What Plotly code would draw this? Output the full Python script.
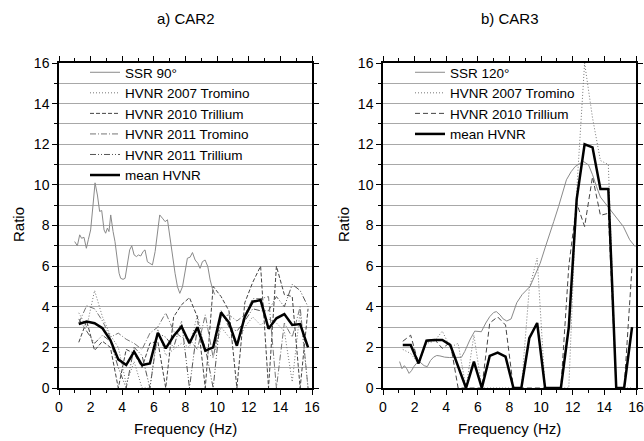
import plotly.graph_objects as go

# ---------------- data ----------------
freq_hv = [1.25, 1.75, 2.25, 2.75, 3.25, 3.75, 4.25, 4.75, 5.25, 5.75,
           6.25, 6.75, 7.25, 7.75, 8.25, 8.75, 9.25, 9.75, 10.25, 10.75,
           11.25, 11.75, 12.25, 12.75, 13.25, 13.75, 14.25, 14.75, 15.25, 15.75]

# Panel a) CAR2
ssr90_f = [0.99, 1.16, 1.31, 1.43, 1.58, 1.73, 1.86, 2.0, 2.15, 2.28, 2.43, 2.57, 2.70,
           2.85, 2.95, 3.06, 3.16, 3.27, 3.42, 3.54, 3.69, 3.8, 3.9, 4.05, 4.18, 4.32,
           4.47, 4.6, 4.75, 4.9, 5.02, 5.17, 5.32, 5.44, 5.59, 5.74, 5.91, 6.08, 6.22,
           6.37, 6.54, 6.71, 6.86, 7.0, 7.17, 7.34, 7.49, 7.64, 7.81, 7.97, 8.12, 8.29,
           8.44, 8.61, 8.78, 8.92, 9.07, 9.24, 9.41, 9.56, 9.7, 9.85]
ssr90_r = [7.21, 7.0, 7.54, 7.37, 7.42, 6.88, 7.32, 7.78, 9.0, 10.1, 9.5, 8.69, 8.74,
           7.78, 7.62, 7.87, 7.7, 8.52, 7.7, 7.21, 6.3, 5.65, 5.4, 5.35, 5.4, 6.14,
           6.8, 7.0, 6.55, 6.47, 6.55, 6.5, 6.72, 6.8, 6.22, 6.14, 6.06, 6.72, 7.54,
           8.52, 8.36, 8.19, 8.28, 7.45, 6.63, 5.65, 4.99, 4.66, 4.99, 5.73, 6.39, 6.44,
           6.67, 6.3, 6.14, 5.89, 6.22, 6.3, 5.98, 5.32, 4.9, 4.6]
car2_2007_tromino = [3.7, 3.0, 4.8, 3.5, 2.6, 2.0, 0.2, 1.3, 0.0, 0.0,
                     2.9, 1.6, 1.9, 2.2, 2.0, 3.6, 1.8, 1.5, 3.0, 2.5,
                     2.2, 3.0, 3.5, 3.1, 3.4, 3.2, 2.8, 0.3, 3.8, 0.0]
car2_2010_trillium = [2.25, 3.3, 1.85, 2.3, 2.0, 0.0, 1.9, 1.7, 1.0, 2.2,
                      2.3, 0.0, 3.5, 4.1, 4.45, 3.5, 0.0, 5.0, 4.5, 3.8,
                      0.0, 4.2, 5.2, 6.0, 0.0, 6.0, 4.6, 4.5, 0.0, 3.9]
car2_2011_tromino = [3.2, 4.05, 3.9, 3.3, 2.5, 2.7, 2.4, 2.2, 1.9, 2.7,
                     3.0, 3.7, 2.8, 2.5, 2.4, 1.9, 3.6, 1.5, 3.5, 3.6,
                     3.3, 3.6, 4.4, 4.4, 4.5, 0.0, 3.2, 2.5, 4.0, 0.0]
car2_2011_trillium = [3.4, 2.8, 2.2, 2.6, 2.3, 1.0, 0.0, 2.0, 1.6, 0.0,
                      2.7, 2.5, 2.0, 3.3, 0.0, 3.0, 2.0, 0.0, 3.8, 3.0,
                      2.8, 3.3, 3.9, 3.8, 3.8, 4.5, 4.0, 5.1, 4.8, 4.0]
car2_mean = [3.15, 3.27, 3.19, 2.94, 2.36, 1.41, 1.13, 1.79, 1.13, 1.21,
             2.72, 1.95, 2.56, 3.02, 2.2, 2.99, 1.84, 2.0, 3.71, 3.22,
             2.08, 3.51, 4.25, 4.33, 2.92, 3.43, 3.64, 3.1, 3.15, 2.0]

# Panel b) CAR3
ssr120_f = [1.05, 1.2, 1.35, 1.5, 1.65, 1.8, 1.95, 2.1, 2.3, 2.45, 2.6, 2.8, 3.0, 3.2,
            3.4, 3.6, 3.9, 4.2, 4.6, 4.96, 5.17, 5.49, 5.8, 6.0, 6.22, 6.5, 6.75, 7.0,
            7.17, 7.4, 7.6, 7.83, 8.1, 8.46, 8.8, 9.3, 9.6, 9.94, 10.25, 10.57, 10.8,
            11.1, 11.35, 11.6, 11.9, 12.15, 12.45, 12.68, 13.0, 13.25, 13.5, 13.75,
            14.05, 14.3, 14.58, 14.9, 15.2, 15.6, 15.95]
ssr120_r = [1.3, 0.95, 1.1, 0.95, 0.72, 0.85, 1.05, 1.2, 1.3, 1.2, 1.1, 1.05, 1.35, 1.52,
            1.6, 1.58, 1.52, 1.5, 1.5, 1.51, 1.8, 2.36, 2.8, 2.78, 2.77, 3.2, 3.51, 3.72,
            3.76, 3.6, 3.4, 3.3, 3.4, 4.2, 4.6, 5.0, 5.5, 6.14, 6.9, 7.62, 8.2,
            8.93, 9.6, 10.25, 10.65, 10.9, 11.05, 11.15, 10.98, 10.5, 9.92, 9.4,
            9.1, 8.85, 8.6, 8.25, 7.95, 7.3, 6.96]
car3_2007_tromino = [1.9, 1.7, 1.2, 2.2, 2.3, 2.8, 2.0, 2.2, 0.0, 2.6,
                     0.0, 0.0, 0.0, 0.0, 0.0, 0.0, 4.9, 6.4, 0.0, 0.0,
                     0.0, 0.0, 9.7, 16.0, 13.3, 11.2, 11.0, 0.0, 0.0, 0.0]
car3_2010_trillium = [2.3, 2.6, 1.2, 2.35, 2.4, 1.95, 2.25, 0.0, 0.0, 0.0,
                      0.0, 3.2, 3.5, 3.1, 0.0, 0.0, 0.0, 0.0, 0.0, 0.0,
                      0.0, 6.0, 9.1, 7.95, 10.4, 8.5, 8.6, 0.0, 0.0, 6.0]
car3_mean = [2.12, 2.12, 1.21, 2.33, 2.36, 2.36, 2.12, 1.05, 0.0, 1.3,
             0.0, 1.58, 1.74, 1.54, 0.0, 0.0, 2.45, 3.2, 0.0, 0.0,
             0.0, 3.0, 9.3, 12.0, 11.85, 9.8, 9.8, 0.0, 0.0, 3.0]

x_ticks = [0, 2, 4, 6, 8, 10, 12, 14, 16]
y_ticks = [0, 2, 4, 6, 8, 10, 12, 14, 16]

# ---------------- figure ----------------
W, H = 644, 441
FONT = "Liberation Sans, Arial, Helvetica, sans-serif"

fig = go.Figure()

def add(x, y, name, color, width, dash, xa, ya, leg):
    fig.add_trace(go.Scatter(x=x, y=y, name=name, mode="lines",
                             line=dict(color=color, width=width, dash=dash),
                             xaxis=xa, yaxis=ya, legend=leg, hoverinfo="skip"))

DOT = "1px,2px"
DASH = "4px,2px"
DDOT = "6px,2px,1px,2px,1px,2px"
DDASH = "6px,2px,1px,2px"
add(ssr90_f, ssr90_r, "SSR 90°", "#8a8a8a", 1, "solid", "x", "y", "legend")
add(freq_hv, car2_2007_tromino, "HVNR 2007 Tromino", "#777777", 1, DOT, "x", "y", "legend")
add(freq_hv, car2_2010_trillium, "HVNR 2010 Trillium", "#444444", 1, DASH, "x", "y", "legend")
add(freq_hv, car2_2011_tromino, "HVNR 2011 Tromino", "#777777", 1, DDASH, "x", "y", "legend")
add(freq_hv, car2_2011_trillium, "HVNR 2011 Trillium", "#555555", 1, DDOT, "x", "y", "legend")
add(freq_hv, car2_mean, "mean HVNR", "#000000", 2.5, "solid", "x", "y", "legend")

add(ssr120_f, ssr120_r, "SSR 120°", "#8a8a8a", 1, "solid", "x2", "y2", "legend2")
add(freq_hv, car3_2007_tromino, "HVNR 2007 Tromino", "#777777", 1, DOT, "x2", "y2", "legend2")
add(freq_hv, car3_2010_trillium, "HVNR 2010 Trillium", "#444444", 1, "5px,3px", "x2", "y2", "legend2")
add(freq_hv, car3_mean, "mean HVNR", "#000000", 2.5, "solid", "x2", "y2", "legend2")

def px_x(p):
    return p / W

def px_y(p):
    return 1 - p / H

top, bot = 63, 388
xdom1 = [px_x(59), px_x(312)]
xdom2 = [px_x(383), px_x(636)]
ydom = [px_y(bot), px_y(top)]

tickfont = dict(family=FONT, size=14, color="black")

def xaxis(dom, anchor):
    return dict(domain=dom, anchor=anchor, range=[0, 16], tickvals=x_ticks,
                ticks="outside", ticklen=5, tickwidth=1, tickcolor="black",
                showline=True, linecolor="black", linewidth=1.5, mirror="ticks",
                showgrid=False, zeroline=False, tickfont=tickfont,
                minor=dict(dtick=1, tick0=0, ticks="outside", ticklen=3,
                           tickcolor="black", showgrid=False))

def yaxis(anchor):
    return dict(domain=ydom, anchor=anchor, range=[0, 16], tickvals=y_ticks,
                ticks="outside", ticklen=5, tickwidth=1, tickcolor="black",
                showline=True, linecolor="black", linewidth=1.5, mirror="ticks",
                showgrid=True, gridcolor="#a8a8a8", gridwidth=1, zeroline=False,
                tickfont=tickfont,
                minor=dict(dtick=1, tick0=0, ticks="outside", ticklen=3,
                           tickcolor="black", showgrid=True, gridcolor="#a8a8a8",
                           gridwidth=1))

legfont = dict(family=FONT, size=13.5, color="black")
fig.update_layout(
    width=W, height=H,
    margin=dict(l=0, r=0, t=0, b=0, autoexpand=False),
    paper_bgcolor="white", plot_bgcolor="white",
    font=dict(family=FONT, size=13, color="black"),
    xaxis=xaxis(xdom1, "y"), yaxis=yaxis("x"),
    xaxis2=xaxis(xdom2, "y2"), yaxis2=yaxis("x2"),
    legend=dict(x=px_x(85), y=px_y(57), xanchor="left", yanchor="top",
                bgcolor="rgba(0,0,0,0)", borderwidth=0, font=legfont,
                tracegroupgap=0),
    legend2=dict(x=px_x(410), y=px_y(57), xanchor="left", yanchor="top",
                 bgcolor="rgba(0,0,0,0)", borderwidth=0, font=legfont,
                 tracegroupgap=0),
    showlegend=True,
    hovermode=False,
)

ann_font = dict(family=FONT, size=15, color="black")
anns = [
    dict(text="a) CAR2", x=px_x(185.5), y=px_y(18)),
    dict(text="b) CAR3", x=px_x(509.5), y=px_y(18)),
    dict(text="Frequency (Hz)", x=px_x(185.5), y=px_y(428)),
    dict(text="Frequency (Hz)", x=px_x(509.5), y=px_y(428)),
    dict(text="Ratio", x=px_x(18), y=px_y(225), textangle=-90),
    dict(text="Ratio", x=px_x(343), y=px_y(225), textangle=-90),
]
for a in anns:
    fig.add_annotation(xref="paper", yref="paper", showarrow=False,
                       xanchor="center", yanchor="middle", font=ann_font, **a)

# remove the default page margin so the 644x441 figure fills the window exactly
post = ("document.documentElement.style.margin='0';"
        "document.documentElement.style.overflow='hidden';"
        "document.body.style.margin='0';document.body.style.padding='0';"
        "document.body.style.overflow='hidden';")

fig.write_html("out.html", post_script=post, config={"displayModeBar": False})
